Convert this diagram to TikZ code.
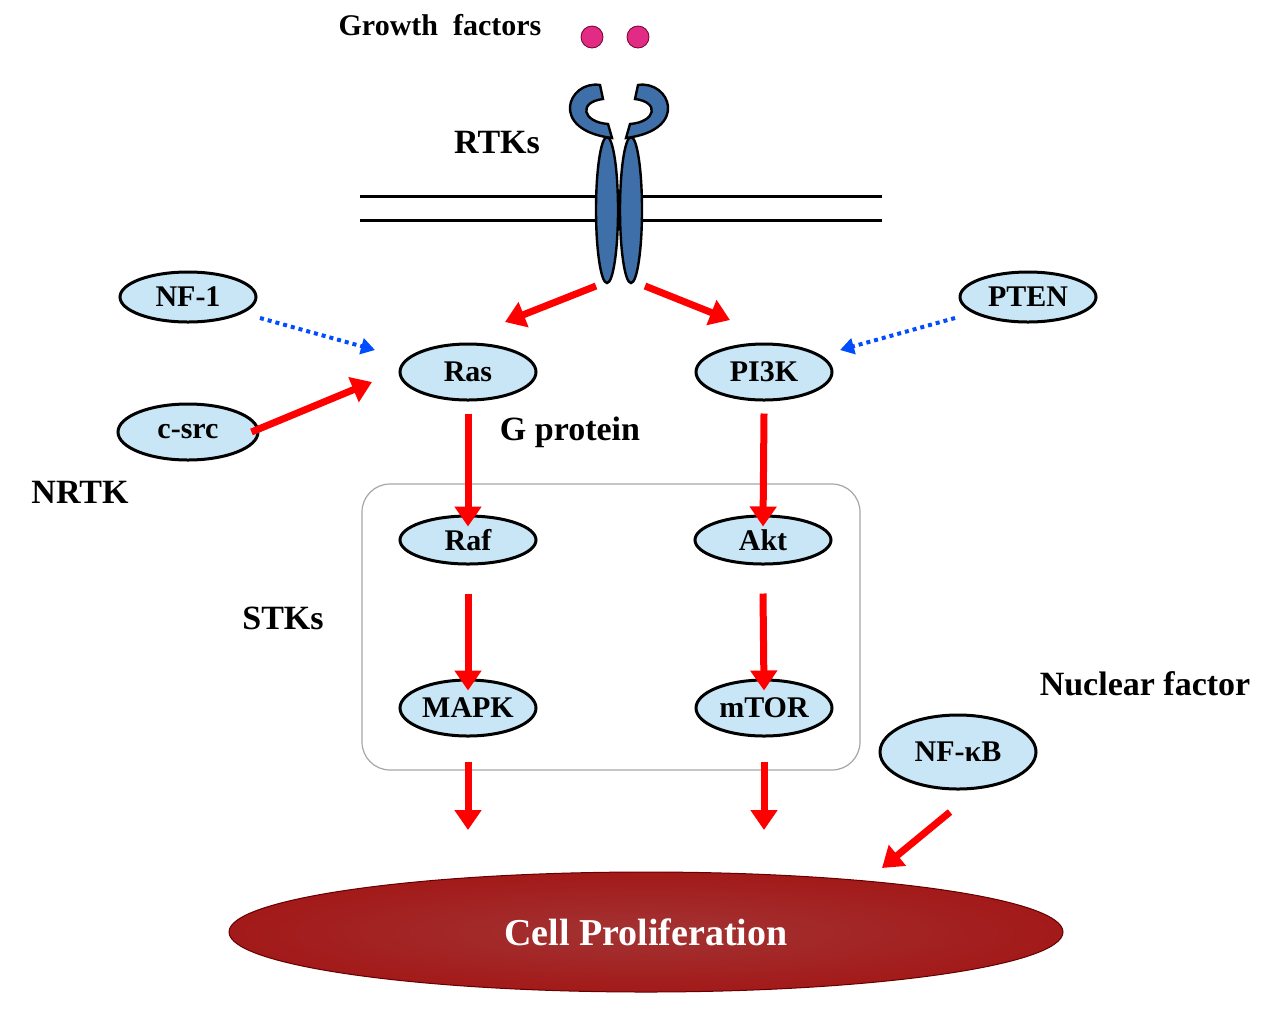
\documentclass[tikz,border=0pt]{standalone}
\usepackage{fontspec}
\setmainfont{Liberation Serif}
\usetikzlibrary{arrows.meta,shapes.geometric}
\definecolor{molfill}{HTML}{C8E6F5}
\definecolor{recblue}{HTML}{3F6FA8}
\begin{document}
\begin{tikzpicture}[x=0.5pt,y=-0.5pt,
 mol/.style={ellipse,draw=black,line width=1.5pt,fill=molfill,inner sep=0pt,font=\fontsize{15}{15}\selectfont\bfseries},
 lab/.style={font=\fontsize{17}{17}\selectfont\bfseries,inner sep=0pt},
 ra/.style={draw=red,line width=3.5pt,-{Triangle[length=10pt,width=13pt]}},
 ba/.style={draw=blue!70!cyan,line width=2pt,dotted,-{Triangle[length=7pt,width=8pt]}},
 rec/.style={draw=black,line width=1.2pt,fill=recblue}]
\useasboundingbox (0,0) rectangle (1283,1013);
% membrane
\draw[line width=1.5pt] (360,196) -- (882,196) (360,220) -- (882,220);
% receptor
\node[rec,ellipse,minimum width=11pt,minimum height=73pt,inner sep=0pt] (r1) at (607,210) {};
\node[rec,ellipse,minimum width=11pt,minimum height=73pt,inner sep=0pt] (r2) at (631,210) {};
\filldraw[rec] (600,85) .. controls (568,80) and (548,130) .. (612,138) -- (608,124) .. controls (582,122) and (578,102) .. (603,99) -- cycle;
\filldraw[rec] (638,85) .. controls (670,80) and (690,130) .. (626,138) -- (630,124) .. controls (656,122) and (660,102) .. (635,99) -- cycle;
% ligands
\node[circle,fill=magenta!70!purple!90,draw=purple!60!black,minimum size=11pt,inner sep=0pt] (g1) at (592,37) {};
\node[circle,fill=magenta!70!purple!90,draw=purple!60!black,minimum size=11pt,inner sep=0pt] (g2) at (638,37) {};
\node[lab,font=\fontsize{15}{15}\selectfont\bfseries] (gf) at (440,25) {Growth\ \ factors};
\node[lab] (rtk) at (497,143) {RTKs};
% box
\node[draw=gray!70,rounded corners=14pt,minimum width=249pt,minimum height=143pt,line width=0.6pt] (box) at (611,627) {};
% nodes
\node[mol,minimum width=68pt,minimum height=25pt] (nf1) at (188,297) {NF-1};
\node[mol,minimum width=68pt,minimum height=25pt] (pten) at (1028,297) {PTEN};
\node[mol,minimum width=68pt,minimum height=28pt] (ras) at (468,372) {Ras};
\node[mol,minimum width=68pt,minimum height=28pt] (pi3k) at (764,372) {PI3K};
\node[mol,minimum width=70pt,minimum height=28pt] (csrc) at (188,432) {c-src};
\node[mol,minimum width=68pt,minimum height=24pt] (raf) at (468,540) {Raf};
\node[mol,minimum width=68pt,minimum height=24pt] (akt) at (763,540) {Akt};
\node[mol,minimum width=68pt,minimum height=28pt] (mapk) at (468,708) {MAPK};
\node[mol,minimum width=68pt,minimum height=28pt] (mtor) at (764,708) {mTOR};
\node[mol,minimum width=78pt,minimum height=37pt] (nfkb) at (958,752) {NF-κB};
\node[lab] (gp) at (570,432) {G protein};
\node[lab] (nrtk) at (80,492) {NRTK};
\node[lab] (stk) at (283,618) {STKs};
\node[lab] (nuc) at (1145,684) {Nuclear factor};
% cell proliferation
\node[ellipse,minimum width=417pt,minimum height=60pt,inner sep=0pt,draw=red!40!black,line width=0.5pt,
 inner color=red!55!black!80,outer color=red!60!black!90,font=\fontsize{19}{19}\selectfont\bfseries,text=white] (cp) at (646,932) {Cell Proliferation};
% arrow coordinates
\coordinate (rl) at (596,286); \coordinate (rr) at (645,286);
\coordinate (rasin) at (505,322); \coordinate (pi3kin) at (730,320);
\coordinate (cp1) at (468,830); \coordinate (cp2) at (764,830); \coordinate (cp3) at (882,868);
\coordinate (rasL) at (375,350); \coordinate (rasL2) at (372,382); \coordinate (piR) at (840,350);
\coordinate (nfo) at (950,812); \coordinate (nf1o) at (260,318); \coordinate (pteno) at (955,318);
\draw[ra] (rl) -- (rasin);
\draw[ra] (rr) -- (pi3kin);
\draw[ra] ([yshift=-6]ras.south) -- ([yshift=-6]raf.north);
\draw[ra] ([yshift=-6]pi3k.south) -- ([yshift=-6]akt.north);
\draw[ra] ([yshift=-14]raf.south) -- ([yshift=-6]mapk.north);
\draw[ra] ([yshift=-14]akt.south) -- ([yshift=-6]mtor.north);
\draw[ra] ([yshift=-12]mapk.south) -- (cp1);
\draw[ra] ([yshift=-12]mtor.south) -- (cp2);
\draw[ra] (nfo) -- (cp3);
\draw[ra] ([xshift=-4]csrc.east) -- (rasL2);
\draw[ba] (nf1o) -- (rasL);
\draw[ba] (pteno) -- (piR);
\end{tikzpicture}
\end{document}
